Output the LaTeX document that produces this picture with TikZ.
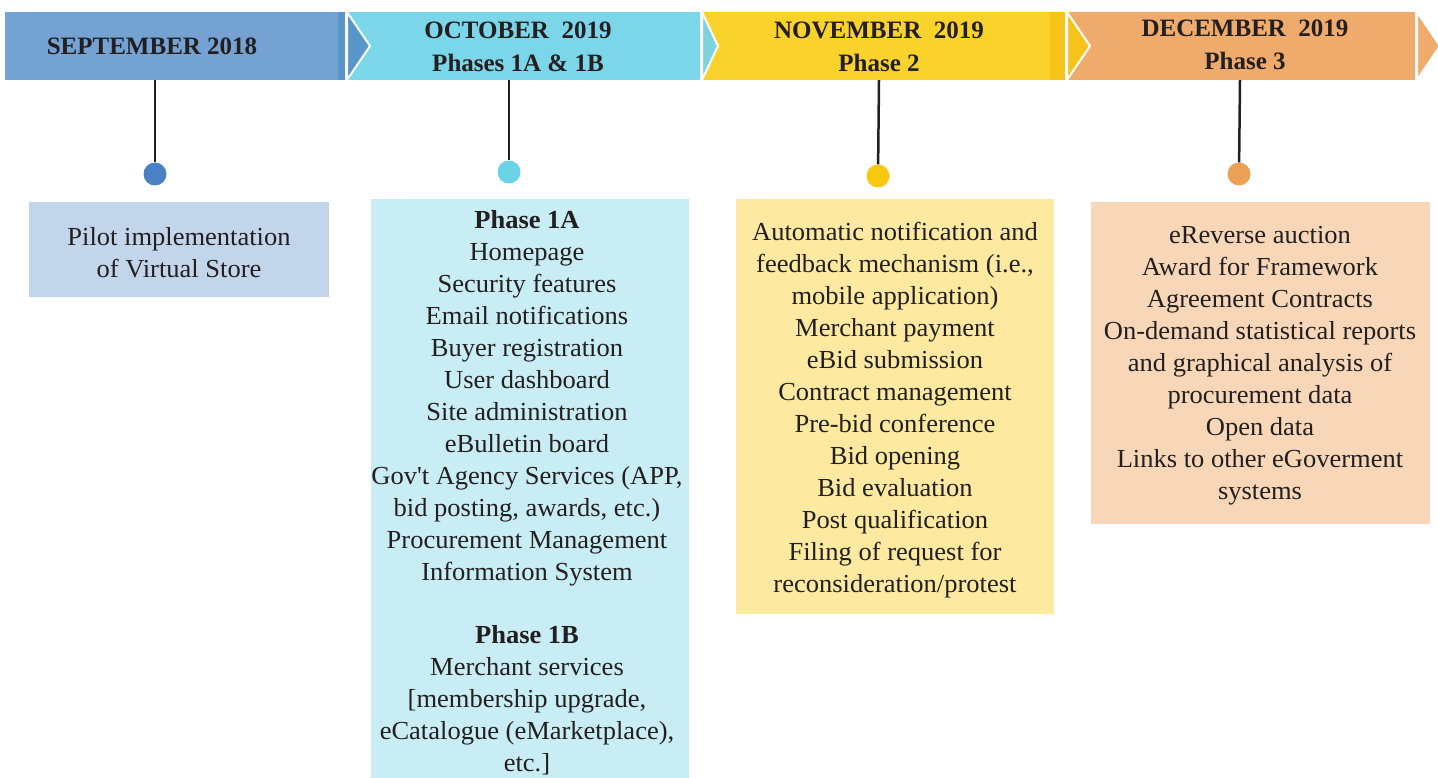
\documentclass[tikz,border=0pt]{standalone}
\usepackage{fontspec}
\setmainfont{Liberation Serif}[FakeStretch=1.02]
\newfontfamily\headfont{Liberation Serif}
\definecolor{ink}{HTML}{231F20}
\definecolor{sepblue}{HTML}{74A2D3}
\definecolor{sepdark}{HTML}{5795CA}
\definecolor{octcyan}{HTML}{7AD6E8}
\definecolor{octdark}{HTML}{7ED4DC}
\definecolor{novyellow}{HTML}{F9D22B}
\definecolor{novdark}{HTML}{F6C31B}
\definecolor{decorange}{HTML}{EFAB6B}
\definecolor{sepbox}{HTML}{C3D5EB}
\definecolor{octbox}{HTML}{C8EDF5}
\definecolor{novbox}{HTML}{FDE9A0}
\definecolor{decbox}{HTML}{F8D7B8}
\tikzstyle{stem}=[line width=2.5pt,draw=ink]
\tikzstyle{dot}=[circle,minimum size=23pt,inner sep=0pt]
\tikzstyle{head}=[font=\headfont\bfseries\fontsize{25}{33}\selectfont,align=center,text=ink]
\tikzstyle{items}=[font=\fontsize{26}{32}\selectfont,align=center,text=ink,inner sep=0pt]
\tikzstyle{tip}=[draw=white,line width=2pt]

\begin{document}
\begin{tikzpicture}[x=1pt,y=-1pt]
    \useasboundingbox (0,0) rectangle (1438,778);
    % banner
    \fill[sepblue] (5,12) rectangle (338,80);
    \fill[sepdark] (338,12) rectangle (345,80);
    \fill[octcyan] (348,12) rectangle (700,80);
    \fill[novyellow] (703,12) rectangle (1050,80);
    \fill[novdark] (1050,12) rectangle (1065,80);
    \fill[decorange] (1068,12) rectangle (1415,80);
    \filldraw[tip,fill=sepdark] (347,12)--(370,46)--(347,80)--cycle;
    \filldraw[tip,fill=octdark] (702,12)--(718,46)--(702,80)--cycle;
    \filldraw[tip,fill=novdark] (1067,12)--(1090,46)--(1067,80)--cycle;
    \filldraw[tip,fill=decorange] (1417,12)--(1440,46)--(1417,80)--cycle;
    \node[head] (sep) at (152,46) {SEPTEMBER 2018};
    \node[head] (oct) at (518,47) {OCTOBER\ \ 2019\\Phases 1A \& 1B};
    \node[head] (nov) at (879,47) {NOVEMBER\ \ 2019\\Phase 2};
    \node[head] (dec) at (1245,45) {DECEMBER\ \ 2019\\Phase 3};

    % stems and dots
    \coordinate (s1) at (155,80);
    \coordinate (s2) at (509,80);
    \coordinate (s3) at (879,80);
    \coordinate (s4) at (1240,80);
    \node[dot,fill={rgb,255:red,74;green,128;blue,196}] (d1) at (155,174) {};
    \node[dot,fill={rgb,255:red,106;green,211;blue,230}] (d2) at (509,172) {};
    \node[dot,fill={rgb,255:red,248;green,200;blue,16}] (d3) at (878,176) {};
    \node[dot,fill={rgb,255:red,234;green,160;blue,85}] (d4) at (1239,174) {};
    \draw[stem] (s1) -- (d1);
    \draw[stem] (s2) -- (d2);
    \draw[stem] (s3) -- (d3);
    \draw[stem] (s4) -- (d4);

    % boxes
    \fill[sepbox] (29,202) rectangle (329,297);
    \fill[octbox] (371,199) rectangle (689,778);
    \fill[novbox] (736,199) rectangle (1054,614);
    \fill[decbox] (1091,202) rectangle (1430,524);
    \node[items] (pilot) at (179,253) {Pilot implementation\\of Virtual Store};
    \node[items] (phaseone) at (527,493) {\textbf{Phase 1A}\\Homepage\\Security features\\Email notifications\\Buyer registration\\User dashboard\\Site administration\\eBulletin board\\Gov\textquotesingle t Agency Services (APP,\\bid posting, awards, etc.)\\Procurement Management\\Information System\\[31pt]\textbf{Phase 1B}\\Merchant services\\{[membership upgrade,}\\eCatalogue (eMarketplace),\\etc.]};
    \node[items] (phasetwo) at (895,410) {Automatic notification and\\feedback mechanism (i.e.,\\mobile application)\\Merchant payment\\eBid submission\\Contract management\\Pre-bid conference\\Bid opening\\Bid evaluation\\Post qualification\\Filing of request for\\reconsideration/protest};
    \node[items] (phasethree) at (1260,366) {eReverse auction\\Award for Framework\\Agreement Contracts\\On-demand statistical reports\\and graphical analysis of\\procurement data\\Open data\\Links to other eGoverment\\systems};
\end{tikzpicture}
\end{document}
